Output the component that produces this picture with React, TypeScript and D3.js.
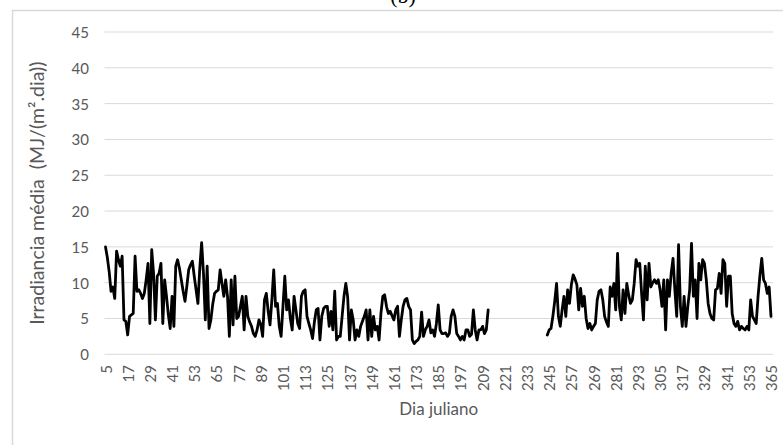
import React from 'react';
import * as d3 from 'd3';

// Daily mean irradiance, first block: Julian days 5–212
const FIRST_BLOCK_START = 5;
const irradianceFirstBlock = [
  15.0, 13.5, 11.5, 8.8, 9.4, 7.8, 14.4, 13.2, 12.3, 13.7,
  4.8, 4.6, 2.7, 5.3, 5.5, 5.7, 13.7, 8.8, 9.0, 8.5,
  7.8, 8.5, 10.4, 12.7, 4.3, 14.6, 11.3, 4.8, 10.9, 11.3,
  12.7, 4.3, 10.4, 8.1, 5.5, 3.6, 8.1, 3.9, 12.3, 13.2,
  12.0, 10.4, 8.8, 7.4, 9.5, 11.8, 12.5, 13.0, 10.9, 9.0,
  7.1, 12.0, 15.6, 11.3, 4.8, 12.3, 3.6, 4.8, 7.0, 8.5,
  8.8, 9.0, 11.8, 9.9, 8.1, 10.4, 8.1, 2.5, 10.4, 4.1,
  10.9, 5.0, 5.3, 6.7, 8.1, 3.4, 8.1, 5.3, 4.5, 3.9,
  2.9, 2.5, 3.4, 4.8, 4.2, 2.5, 7.6, 8.5, 6.0, 4.1,
  7.6, 11.8, 6.7, 7.1, 3.9, 2.5, 6.7, 10.9, 6.2, 7.6,
  5.0, 3.4, 8.1, 6.2, 4.3, 3.6, 8.1, 8.8, 9.0, 5.3,
  4.3, 3.4, 2.2, 4.5, 6.2, 6.4, 2.0, 5.3, 6.4, 6.7,
  6.7, 3.9, 6.0, 3.4, 8.8, 2.0, 2.5, 2.5, 5.3, 8.1,
  9.9, 8.0, 2.0, 6.2, 4.8, 2.0, 3.4, 2.5, 3.9, 4.6,
  5.3, 6.2, 2.0, 6.2, 2.5, 5.3, 3.4, 3.9, 2.0, 5.7,
  8.1, 8.3, 6.7, 5.7, 6.0, 5.4, 4.8, 6.2, 6.7, 2.5,
  4.8, 6.7, 7.6, 7.8, 6.7, 6.2, 2.0, 1.5, 1.8, 2.0,
  2.5, 5.9, 2.5, 3.4, 3.9, 4.8, 3.0, 3.4, 2.5, 4.3,
  6.9, 3.4, 2.9, 2.9, 3.0, 2.5, 2.9, 5.3, 6.2, 5.3,
  2.9, 2.5, 2.0, 2.5, 2.0, 3.4, 3.4, 2.5, 2.8, 6.2,
  3.4, 2.0, 3.4, 3.4, 3.9, 2.9, 3.4, 6.2,
];

// Second block: Julian days 244–365 (no records between the two blocks)
const SECOND_BLOCK_START = 244;
const irradianceSecondBlock = [
  2.7, 3.4, 3.6, 5.3, 7.4, 9.9, 5.3, 3.9, 6.2, 8.1,
  5.3, 9.0, 7.1, 9.7, 11.1, 10.5, 9.7, 6.2, 9.2, 6.7,
  8.1, 5.0, 3.6, 4.3, 3.4, 3.9, 4.3, 7.6, 8.8, 9.0,
  7.6, 5.3, 4.5, 3.9, 9.4, 8.1, 9.9, 6.2, 14.1, 6.7,
  4.8, 9.0, 5.7, 9.9, 8.3, 7.1, 7.6, 9.9, 13.2, 12.3,
  12.7, 8.5, 4.8, 12.3, 7.6, 12.7, 9.4, 10.0, 10.4, 9.9,
  10.4, 9.0, 6.7, 10.4, 3.4, 10.4, 8.1, 11.3, 13.4, 9.0,
  5.3, 15.3, 6.7, 3.9, 8.1, 3.9, 6.7, 9.0, 15.5, 8.1,
  10.4, 5.0, 12.7, 10.4, 13.2, 12.7, 10.4, 7.1, 5.7, 5.0,
  4.8, 9.0, 9.2, 11.3, 8.5, 13.2, 12.7, 6.7, 10.9, 10.9,
  5.7, 4.3, 3.9, 4.6, 3.4, 3.9, 3.6, 3.4, 3.9, 3.4,
  7.6, 5.3, 4.8, 4.3, 8.1, 11.0, 13.4, 10.4, 9.9, 8.5,
  9.4, 5.3,
];

const DAY_DOMAIN = [5, 365];
const xTickLabels = [
  5, 17, 29, 41, 53, 65, 77, 89, 101, 113, 125, 137, 149, 161, 173, 185,
  197, 209, 221, 233, 245, 257, 269, 281, 293, 305, 317, 329, 341, 353, 365,
];
const yTicks = [0, 5, 10, 15, 20, 25, 30, 35, 40, 45];

const TITLE = '(b)';
const X_TITLE = 'Dia juliano';
const Y_TITLE = 'Irradiancia média  (MJ/(m².dia))';

type Pt = { day: number; value: number | null };

export default function App() {
  const width = 783;
  const height = 445;
  const plot = { left: 104.5, right: 773, top: 32, bottom: 354.3 };

  const x = d3.scaleLinear().domain(DAY_DOMAIN).range([105.5, 771]);
  const y = d3.scaleLinear().domain([0, 45]).range([plot.bottom, plot.top]);

  const points: Pt[] = [
    ...irradianceFirstBlock.map((v, i) => ({ day: FIRST_BLOCK_START + i, value: v })),
    { day: (FIRST_BLOCK_START + irradianceFirstBlock.length + SECOND_BLOCK_START) / 2, value: null },
    ...irradianceSecondBlock.map((v, i) => ({ day: SECOND_BLOCK_START + i, value: v })),
  ];

  const line = d3
    .line<Pt>()
    .defined((d) => d.value !== null)
    .x((d) => x(d.day))
    .y((d) => y(d.value as number));

  const font = 'Lato, "Open Sans", sans-serif';
  const grey = '#595959';

  return (
    <svg
      width={width}
      height={height}
      style={{ position: 'absolute', left: 0, top: 0, background: '#fff' }}
    >
      <rect x={0} y={0} width={width} height={height} fill="#fff" />
      {/* chart frame */}
      <rect
        x={12.5}
        y={10.5}
        width={width + 20}
        height={height + 20}
        fill="none"
        stroke="#d9d9d9"
        strokeWidth={1.5}
      />
      <text
        x={403}
        y={3}
        textAnchor="middle"
        fontFamily='"Liberation Serif", "Times New Roman", serif'
        fontSize={22}
        fill="#000"
      >
        {TITLE}
      </text>

      {/* horizontal gridlines */}
      {yTicks.map((t) => (
        <line
          key={t}
          x1={plot.left}
          x2={plot.right}
          y1={y(t)}
          y2={y(t)}
          stroke="#d9d9d9"
          strokeWidth={1}
        />
      ))}
      {yTicks.map((t) => (
        <text
          key={'yl' + t}
          x={89}
          y={y(t)}
          textAnchor="end"
          dominantBaseline="central"
          fontFamily={font}
          fontSize={15}
          fill={grey}
        >
          {t}
        </text>
      ))}

      {xTickLabels.map((d) => (
        <text
          key={'xl' + d}
          transform={`translate(${x(d)},${365}) rotate(-90)`}
          textAnchor="end"
          dominantBaseline="central"
          fontFamily={font}
          fontSize={15}
          fill={grey}
        >
          {d}
        </text>
      ))}

      <path
        d={line(points) ?? ''}
        fill="none"
        stroke="#000"
        strokeWidth={2.8}
        strokeLinejoin="round"
        strokeLinecap="round"
      />

      <text
        x={(plot.left + plot.right) / 2}
        y={408}
        textAnchor="middle"
        dominantBaseline="central"
        fontFamily={font}
        fontSize={17}
        fill={grey}
      >
        {X_TITLE}
      </text>
      <text
        transform={`translate(36,${(plot.top + plot.bottom) / 2}) rotate(-90)`}
        textAnchor="middle"
        dominantBaseline="central"
        fontFamily={font}
        fontSize={19.5}
        fill={grey}
        style={{ whiteSpace: 'pre' }}
      >
        {Y_TITLE}
      </text>
    </svg>
  );
}
